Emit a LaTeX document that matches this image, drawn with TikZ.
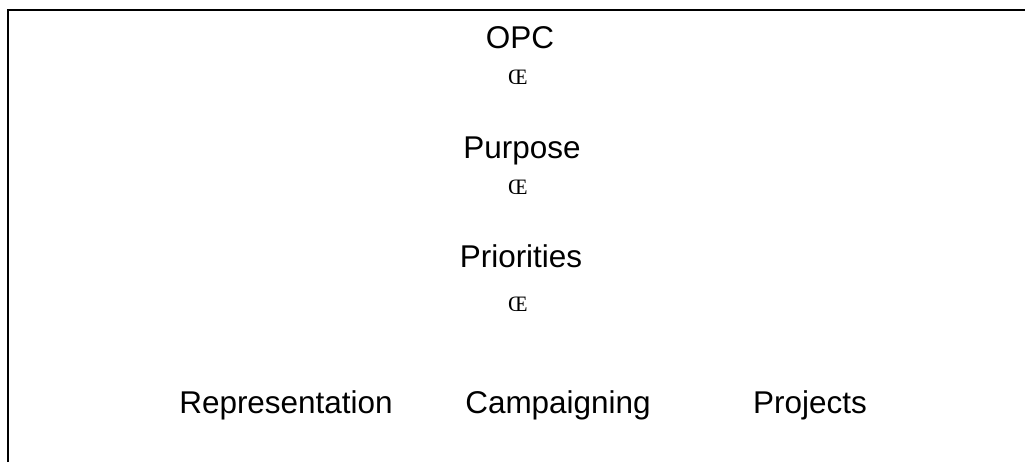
\documentclass[tikz,border=0pt]{standalone}
\usepackage{fontspec}
\setmainfont{Liberation Sans}
\newfontfamily\glyphfont{Liberation Serif}

\begin{document}
\begin{tikzpicture}[x=0.75pt,y=-0.75pt,
    word/.style={anchor=base,inner sep=0pt,font=\fontsize{23.6}{28}\selectfont},
    glyph/.style={anchor=base,inner sep=0pt,font=\glyphfont\fontsize{16.5}{20}\selectfont}]

      \useasboundingbox (0,0) rectangle (1025,462);

      % frame, only top and left edges show
      \draw [line width=1.5pt] (8,462) -- (8,10) -- (1025,10);

      \node [word] (opc) at (520,48) {OPC};
      \node [glyph] (opcmark) at (518,84) {Œ};

      \node [word] (purpose) at (522,158) {Purpose};
      \node [glyph] (purposemark) at (518,194) {Œ};

      \node [word] (priorities) at (521,267) {Priorities};
      \node [glyph] (prioritiesmark) at (518,311) {Œ};


      \node [word] (representation) at (286,413) {Representation};
      \node [word] (campaigning) at (558,413) {Campaigning};
      \node [word] (projects) at (810,413) {Projects};

    \end{tikzpicture}
\end{document}
